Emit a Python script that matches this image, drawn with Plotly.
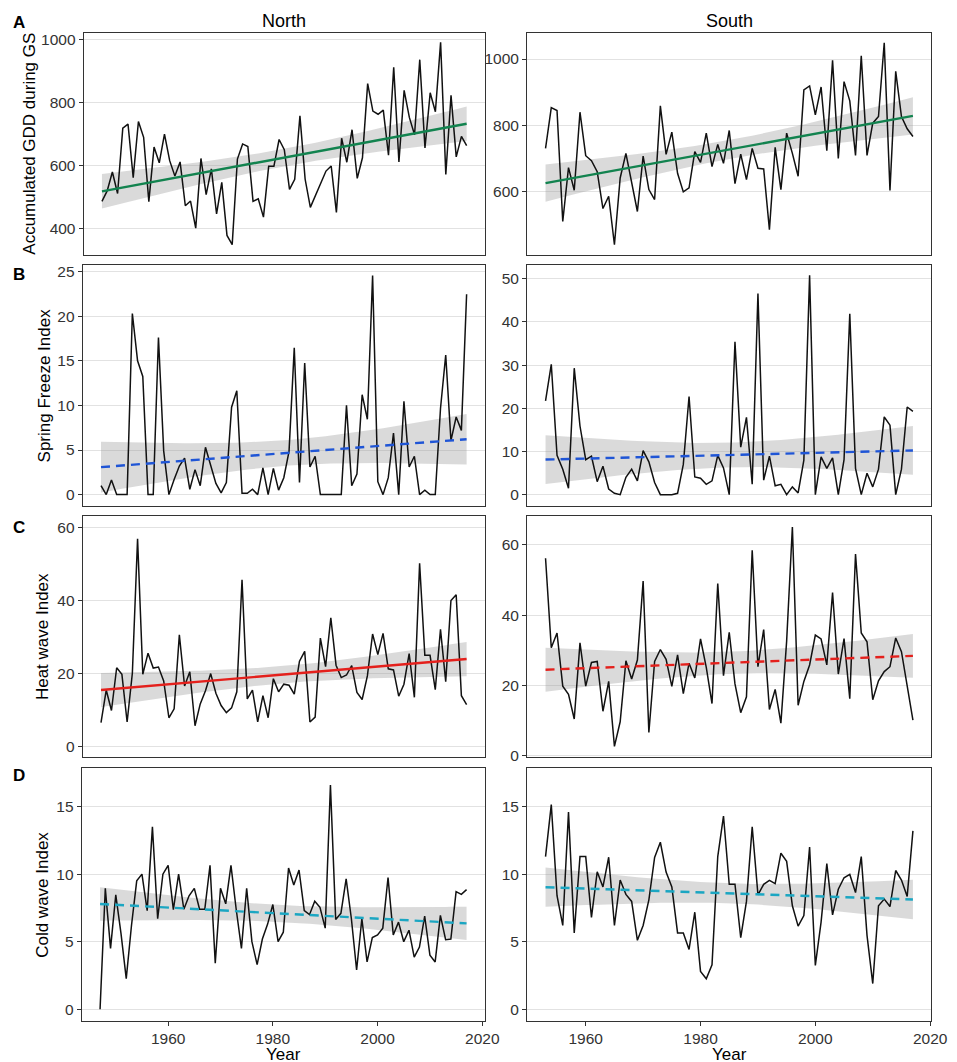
import numpy as np
import plotly.graph_objects as go

# years for the two regions
years_north = list(range(1947, 2018))
years_south = list(range(1953, 2018))

# A - accumulated GDD during growing season
gdd_north = [486, 519, 579, 511, 718, 731, 561, 739, 689, 485, 658, 608, 699, 615, 566, 611, 472, 487, 401, 622,
             507, 589, 446, 546, 378, 349, 620, 668, 660, 486, 494, 436, 597, 597, 682, 650, 524, 556, 757, 556,
             467, 507, 545, 582, 598, 451, 686, 610, 713, 559, 624, 859, 772, 762, 775, 632, 911, 611, 838, 752,
             697, 935, 655, 830, 770, 990, 571, 822, 627, 692, 663]
gdd_south = [731, 854, 845, 511, 673, 605, 840, 709, 694, 661, 550, 587, 441, 642, 716, 632, 541, 708, 607, 577,
             859, 713, 780, 656, 600, 612, 721, 689, 777, 676, 743, 686, 785, 625, 714, 637, 731, 671, 669, 486,
             734, 607, 777, 716, 647, 907, 919, 832, 916, 724, 996, 701, 932, 874, 710, 1010, 710, 807, 827, 1049,
             604, 963, 827, 790, 767]

# B - spring freeze index
freeze_north = [1.0, 0, 1.65, 0, 0, 0, 20.3, 15.0, 13.25, 0, 0, 17.6, 4.9, 0, 1.7, 3.2, 4.1, 0.6, 2.8, 1.0,
                5.3, 3.2, 1.25, 0.2, 1.35, 9.8, 11.65, 0.15, 0.15, 0.6, 0, 3.0, 0, 2.95, 0.5, 1.9, 4.85, 16.45, 1.35, 14.75,
                3.1, 4.3, 0, 0, 0, 0, 0, 10.0, 1.0, 2.3, 11.2, 8.45, 24.55, 1.45, 0, 1.9, 6.9, 0, 10.45, 3.1,
                4.3, 0, 0.5, 0, 0, 9.65, 15.65, 6.05, 8.7, 7.2, 22.45]
freeze_south = [21.7, 30.2, 9.1, 5.9, 1.5, 29.3, 15.9, 8.1, 8.9, 3.0, 6.6, 1.3, 0.3, 0, 4.0, 5.9, 3.2, 10.2, 7.6, 2.8,
                0, 0, 0, 0.3, 7.0, 22.75, 4.1, 3.8, 2.4, 3.2, 9.1, 6.2, 0, 35.4, 11.0, 17.9, 2.4, 46.6, 3.35, 8.9,
                2.05, 2.4, 0, 1.8, 0.4, 8.0, 50.8, 0, 8.75, 6.1, 8.5, 0, 8.1, 41.9, 6.1, 0, 4.95, 1.8, 5.9, 18.0,
                16.1, 0, 5.9, 20.3, 19.3]

# C - heat wave index
heat_north = [6.5, 15.4, 9.8, 21.5, 19.7, 6.65, 20.0, 56.8, 19.7, 25.5, 21.4, 21.7, 17.9, 7.8, 10.25, 30.5, 16.5, 20.4, 5.6, 11.6,
              15.2, 19.9, 14.5, 11.15, 9.2, 10.5, 14.9, 45.6, 12.95, 15.4, 6.65, 13.85, 7.8, 18.5, 14.9, 17.0, 16.7, 14.3, 23.3, 26.0,
              6.65, 8.0, 29.6, 21.8, 35.2, 22.2, 18.8, 19.5, 22.1, 14.75, 12.8, 19.25, 30.75, 25.1, 30.9, 21.2, 20.9, 13.7, 17.0, 25.35,
              13.4, 50.1, 24.9, 24.9, 15.5, 32.0, 17.7, 39.9, 41.5, 13.85, 11.4]
heat_south = [56.2, 30.7, 34.9, 19.75, 17.4, 10.4, 32.1, 19.75, 26.5, 26.8, 12.6, 21.1, 2.6, 9.6, 27.0, 21.8, 27.2, 49.7, 6.55, 26.8,
              30.2, 27.4, 19.7, 28.65, 17.6, 26.3, 22.1, 33.2, 25.1, 14.8, 49.0, 22.75, 35.1, 20.4, 12.2, 16.7, 58.5, 25.3, 35.9, 13.1,
              18.8, 9.2, 32.6, 65.1, 14.3, 21.1, 25.8, 34.3, 33.2, 25.8, 46.4, 23.2, 33.3, 16.2, 57.4, 34.9, 32.4, 15.9, 21.3, 23.9,
              25.3, 33.5, 29.6, 20.2, 10.1]

# D - cold wave index
cold_north = [0, 8.95, 4.5, 8.47, 5.6, 2.26, 6.2, 9.5, 10.0, 7.3, 13.5, 6.7, 10.0, 10.65, 7.37, 10.0, 7.4, 8.4, 8.95, 7.4,
              7.4, 10.65, 3.4, 8.95, 7.8, 10.65, 7.4, 4.5, 8.95, 5.0, 3.3, 5.2, 6.3, 7.75, 5.0, 5.7, 10.45, 9.2, 10.3, 7.3,
              7.0, 8.0, 7.55, 6.0, 16.6, 6.65, 7.1, 9.65, 6.7, 2.9, 6.7, 3.5, 5.3, 5.5, 6.0, 9.75, 5.5, 6.45, 5.0, 5.85,
              3.85, 4.6, 6.9, 4.0, 3.5, 6.95, 5.15, 5.2, 8.7, 8.5, 8.85]
cold_south = [11.3, 15.15, 8.4, 6.2, 14.6, 5.65, 11.3, 11.3, 6.8, 10.17, 9.05, 11.25, 6.2, 9.56, 8.5, 7.98, 5.1, 6.2, 8.1, 11.24,
              12.36, 10.15, 9.05, 5.65, 5.65, 4.43, 7.18, 2.8, 2.26, 3.28, 11.3, 14.3, 9.25, 9.25, 5.3, 7.98, 13.5, 8.47, 9.25, 9.54,
              9.3, 11.55, 10.95, 7.66, 6.15, 6.93, 12.0, 3.24, 6.45, 10.78, 6.98, 8.88, 9.73, 9.98, 8.64, 11.3, 5.47, 1.9, 7.66, 8.15,
              7.6, 10.27, 9.56, 8.35, 13.2]

W, H = 957, 1062
T_CRIT = {71: 1.9949, 65: 1.9983}  # 95% t quantiles for n-2 df

GREEN = "#12834f"
BLUE = "#1f55d6"
RED = "#e4201c"
CYAN = "#1ba6c2"


def fit_band(x, y):
    # same thing geom_smooth(method="lm") does
    x = np.asarray(x, float)
    y = np.asarray(y, float)
    n = len(x)
    b1, b0 = np.polyfit(x, y, 1)
    yhat = b0 + b1 * x
    s = np.sqrt(np.sum((y - yhat) ** 2) / (n - 2))
    sxx = np.sum((x - x.mean()) ** 2)
    se = s * np.sqrt(1 / n + (x - x.mean()) ** 2 / sxx)
    t = T_CRIT[n]
    return yhat, yhat - t * se, yhat + t * se


# (years, values, colour, dash, yrange, tickvals, x px span, y px span)
panels = [
    (years_north, gdd_north, GREEN, "solid", [317, 1018], [400, 600, 800, 1000], (77, 485), (22.7, 246)),
    (years_south, gdd_south, GREEN, "solid", [411, 1077], [600, 800, 1000], (528, 939), (22.7, 246)),
    (years_north, freeze_north, BLUE, "9px,6px", [-1.23, 25.78], [0, 5, 10, 15, 20, 25], (76, 485), (256, 499.3)),
    (years_south, freeze_south, BLUE, "9px,6px", [-2.54, 53.3], [0, 10, 20, 30, 40, 50], (528, 939), (256, 499.3)),
    (years_north, heat_north, RED, "solid", [-3, 63], [0, 20, 40, 60], (76, 485), (510, 753.3)),
    (years_south, heat_south, RED, "9px,6px", [-0.5, 68.2], [0, 20, 40, 60], (528, 939), (510, 753.3)),
    (years_north, cold_north, CYAN, "9px,6px", [-0.85, 17.85], [0, 5, 10, 15], (75, 485), (764.3, 1019.3)),
    (years_south, cold_south, CYAN, "9px,6px", [-0.85, 17.85], [0, 5, 10, 15], (528, 939), (764.3, 1019.3)),
]

fig = go.Figure()
layout = {}
for k, (yrs, vals, col, dash, yr, tv, xs, ys) in enumerate(panels):
    assert len(yrs) == len(vals)
    i = k + 1
    xa, ya = f"x{i}", f"y{i}"
    fit, lo, hi = fit_band(yrs, vals)
    fig.add_trace(go.Scatter(x=list(yrs) + list(yrs)[::-1], y=list(hi) + list(lo)[::-1],
                             fill="toself", fillcolor="rgba(153,153,153,0.36)", line=dict(width=0),
                             mode="lines", hoverinfo="skip", xaxis=xa, yaxis=ya))
    fig.add_trace(go.Scatter(x=yrs, y=vals, mode="lines", line=dict(color="#111111", width=1.5),
                             xaxis=xa, yaxis=ya))
    fig.add_trace(go.Scatter(x=yrs, y=fit, mode="lines", line=dict(color=col, width=2.4, dash=dash),
                             xaxis=xa, yaxis=ya))

    bottom = k >= 6
    north = k % 2 == 0
    layout[f"xaxis{i}"] = dict(
        domain=[xs[0] / W, xs[1] / W], anchor=ya,
        range=[1943.5, 2020.5] if north else [1949.8, 2020.2],
        tickvals=[1960, 1980, 2000, 2020], showgrid=False, zeroline=False,
        showline=True, mirror=True, linecolor="#333333", linewidth=1.2,
        ticks="outside" if bottom else "", ticklen=4, tickcolor="#333333",
        showticklabels=bottom, tickfont=dict(size=15.5, color="#333333"),
        ticklabelstandoff=0,
    )
    layout[f"yaxis{i}"] = dict(
        domain=[1 - ys[1] / H, 1 - ys[0] / H], anchor=xa, range=yr, tickvals=tv,
        showgrid=True, gridcolor="#e2e2e2", gridwidth=1.2, zeroline=False,
        showline=True, mirror=True, linecolor="#333333", linewidth=1.2,
        ticks="outside", ticklen=4, tickcolor="#333333",
        tickfont=dict(size=15.5, color="#333333"),
    )

fig.update_layout(**layout)

ann = []
ann.append(dict(text="North", x=281 / W, y=1 - 10 / H, showarrow=False, font=dict(size=18, color="black")))
ann.append(dict(text="South", x=733.5 / W, y=1 - 10 / H, showarrow=False, font=dict(size=18, color="black")))
for letter, py in [("A", 12), ("B", 266), ("C", 521), ("D", 772)]:
    ann.append(dict(text=f"<b>{letter}</b>", x=11 / W, y=1 - py / H, showarrow=False,
                    font=dict(size=17, color="black")))
for title, px, py in [("Accumulated GDD during GS", 21, 134.3), ("Spring Freeze Index", 37, 377.6),
                      ("Heat wave Index", 35, 631.6), ("Cold wave Index", 35, 891.8)]:
    ann.append(dict(text=title, x=px / W, y=1 - py / H, textangle=-90, showarrow=False,
                    font=dict(size=17, color="black")))
for px in [280, 733.5]:
    ann.append(dict(text="Year", x=px / W, y=1 - 1053 / H, showarrow=False, font=dict(size=17, color="black")))
for a in ann:
    a.update(xref="paper", yref="paper", xanchor="center", yanchor="middle")

fig.update_layout(
    width=W, height=H, margin=dict(l=0, r=0, t=0, b=0),
    paper_bgcolor="white", plot_bgcolor="white",
    font=dict(family="Liberation Sans, Arial, sans-serif"),
    showlegend=False, annotations=ann,
)

fig.write_html("out.html")
